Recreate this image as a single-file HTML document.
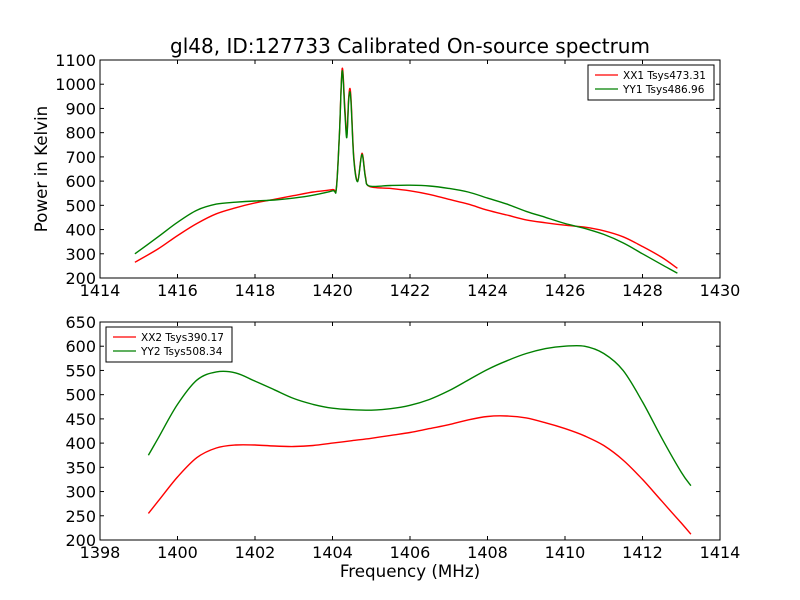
<!DOCTYPE html>
<html><head><meta charset="utf-8"><style>
body{margin:0;background:#fff}
svg{display:block;font-family:"DejaVu Sans","Liberation Sans",sans-serif}
</style></head><body>
<svg id="c" width="800" height="600" viewBox="0 0 800 600"></svg>
<script>
const topFreqR=[1414.9,1415.5,1416,1416.5,1417,1417.5,1418,1418.5,1419,1419.5,1420,1420.1,1420.18,1420.25,1420.32,1420.37,1420.42,1420.47,1420.55,1420.65,1420.76,1420.85,1420.95,1421.5,1422,1422.5,1423,1423.5,1424,1424.5,1425,1425.5,1426,1426.5,1427,1427.5,1428,1428.5,1428.9];
const topXX1=[265,320,375,425,465,490,510,525,540,555,565,575,800,1065,900,790,950,960,700,600,715,620,578,570,560,545,525,505,480,460,440,428,418,410,395,370,330,285,240];
const topYY1=[300,370,430,480,505,513,518,522,530,542,560,570,800,1055,880,780,940,945,690,598,710,615,580,582,583,580,570,555,530,505,475,450,425,405,380,345,300,255,220];
const botFreq=[1399.25,1399.5,1400,1400.5,1401,1401.5,1402,1402.5,1403,1403.5,1404,1404.5,1405,1405.5,1406,1406.5,1407,1407.5,1408,1408.5,1409,1409.5,1410,1410.5,1411,1411.5,1412,1412.5,1413,1413.25];
const botXX2=[255,280,330,370,390,396,396,394,393,395,400,405,410,416,422,430,438,448,455,456,452,442,430,415,395,365,325,280,235,212];
const botYY2=[375,410,480,530,547,545,528,510,492,480,472,469,468,471,478,490,508,530,552,570,585,595,600,600,585,550,485,410,340,312];
const topXTicks=[1414,1416,1418,1420,1422,1424,1426,1428,1430];
const topYTicks=[200,300,400,500,600,700,800,900,1000,1100];
const botXTicks=[1398,1400,1402,1404,1406,1408,1410,1412,1414];
const botYTicks=[200,250,300,350,400,450,500,550,600,650];

const NS="http://www.w3.org/2000/svg";
const svg=document.getElementById('c');
function mk(t,a,p){const e=document.createElementNS(NS,t);for(const k in a)e.setAttribute(k,a[k]);(p||svg).appendChild(e);return e;}
function smooth(pts){
  let d='M'+pts[0][0].toFixed(1)+','+pts[0][1].toFixed(1);
  for(let i=0;i<pts.length-1;i++){
    const p0=pts[Math.max(0,i-1)],p1=pts[i],p2=pts[i+1],p3=pts[Math.min(pts.length-1,i+2)];
    const c1=[p1[0]+(p2[0]-p0[0])/6,p1[1]+(p2[1]-p0[1])/6];
    const c2=[p2[0]-(p3[0]-p1[0])/6,p2[1]-(p3[1]-p1[1])/6];
    d+='C'+c1.map(v=>v.toFixed(1)).join(',')+' '+c2.map(v=>v.toFixed(1)).join(',')+' '+p2[0].toFixed(1)+','+p2[1].toFixed(1);
  }
  return d;
}
function panel(name,y0,y1,xmin,xmax,ymin,ymax,xt,yt,series,legend){
  const x0=100,x1=720;
  const g=mk('g',{});
  
  
  const sx=v=>x0+(v-xmin)/(xmax-xmin)*(x1-x0);
  const sy=v=>y1-(v-ymin)/(ymax-ymin)*(y1-y0);
  series.forEach(s=>{
    const d=smooth(s.x.map((v,i)=>[sx(v),sy(s.y[i])]));
    const p=mk('path',{d:d,fill:'none',stroke:s.c,'stroke-width':1.4,'stroke-linejoin':'round'},g);
    
    
  });
  const fr=mk('rect',{x:x0,y:y0,width:x1-x0,height:y1-y0,fill:'none',stroke:'#000','stroke-width':1},g);
  
  
  xt.forEach(v=>{const x=sx(v);
    mk('line',{x1:x,x2:x,y1:y1,y2:y1-4,stroke:'#000'},g);
    mk('line',{x1:x,x2:x,y1:y0,y2:y0+4,stroke:'#000'},g);
    const t=mk('text',{x:x,y:y1+18,'text-anchor':'middle','font-size':16},g);t.textContent=v;
    
    
  });
  yt.forEach(v=>{const y=sy(v);
    mk('line',{x1:x0,x2:x0+4,y1:y,y2:y,stroke:'#000'},g);
    mk('line',{x1:x1,x2:x1-4,y1:y,y2:y,stroke:'#000'},g);
    const t=mk('text',{x:x0-4,y:y+6,'text-anchor':'end','font-size':16},g);t.textContent=v;
    
    
  });
  const lg=mk('g',{},g);
  
  
  mk('rect',{x:legend.x,y:legend.y,width:126,height:35,fill:'#fff',stroke:'#000'},lg);
  series.forEach((s,i)=>{const yy=legend.y+10+i*14;
    mk('line',{x1:legend.x+7,x2:legend.x+30,y1:yy,y2:yy,stroke:s.c,'stroke-width':1.3},lg);
    const t=mk('text',{x:legend.x+35,y:yy+4,'font-size':10.5},lg);t.textContent=s.label;
    
    
  });
}
panel('top-panel',60,278,1414,1430,200,1100,topXTicks,topYTicks,
  [{x:topFreqR,y:topXX1,c:'#ff0000',n:'xx1-line',label:'XX1 Tsys473.31'},
   {x:topFreqR,y:topYY1,c:'#008000',n:'yy1-line',label:'YY1 Tsys486.96'}],{x:588,y:65});
panel('bottom-panel',322,540,1398,1414,200,650,botXTicks,botYTicks,
  [{x:botFreq,y:botXX2,c:'#ff0000',n:'xx2-line',label:'XX2 Tsys390.17'},
   {x:botFreq,y:botYY2,c:'#008000',n:'yy2-line',label:'YY2 Tsys508.34'}],{x:106,y:327});
let t=mk('text',{x:410,y:53,'text-anchor':'middle','font-size':20});t.textContent='gl48, ID:127733 Calibrated On-source spectrum';

t=mk('text',{x:410,y:577,'text-anchor':'middle','font-size':16.7});t.textContent='Frequency (MHz)';

t=mk('text',{x:47,y:169,'text-anchor':'middle','font-size':16.7,transform:'rotate(-90 47 169)'});t.textContent='Power in Kelvin';

</script>
</body></html>
